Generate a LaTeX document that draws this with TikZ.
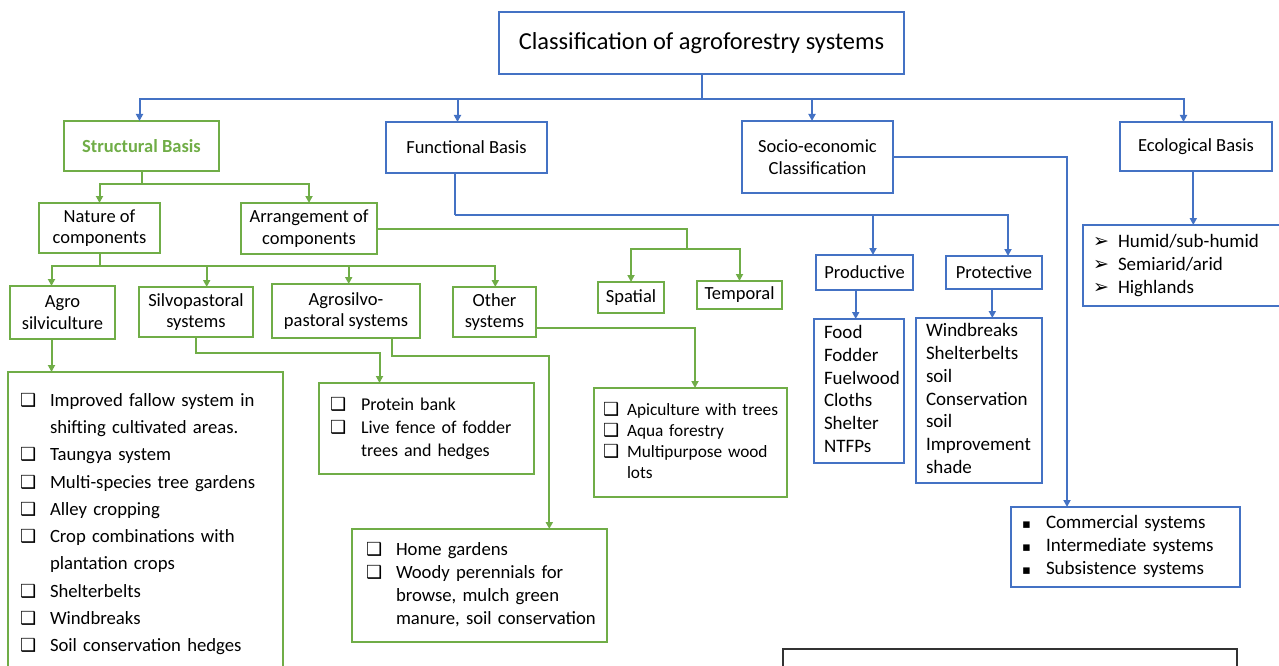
\documentclass[tikz,border=0pt]{standalone}
\usepackage{fontspec}
\setmainfont{Carlito}
\newfontfamily\symfont{DejaVu Sans}
\usetikzlibrary{arrows.meta}
\definecolor{agreen}{HTML}{70AD47}
\definecolor{ablue}{HTML}{4472C4}
% bullet marks used in the lists
\newcommand{\chk}{{\symfont\fontsize{18}{18}\selectfont ❑}}
\newcommand{\pointer}{{\symfont\fontsize{19}{19}\selectfont ➢}}
\newcommand{\sqmark}{{\symfont\fontsize{13}{13}\selectfont ▪}}
\setlength{\parindent}{0pt}

\begin{document}
\begin{tikzpicture}[x=1pt, y=-1pt,
  box/.style={draw, line width=1.6pt, rectangle, inner sep=0pt, outer sep=0pt,
    anchor=north west, align=center, font=\fontsize{18.5}{21.5}\selectfont},
  bbox/.style={box, draw=ablue},
  gbox/.style={box, draw=agreen},
  blist/.style={bbox, align=left, font=\fontsize{19}{22.7}\selectfont},
  glist/.style={gbox, align=left, font=\fontsize{18.7}{22.7}\selectfont},
  bline/.style={draw=ablue, line width=2pt},
  barr/.style={bline, -{Triangle[length=7pt,width=7pt]}},
  gline/.style={draw=agreen, line width=2pt},
  garr/.style={gline, -{Triangle[length=7pt,width=7pt]}},
]
\useasboundingbox (0,0) rectangle (1279,666);
\clip (0,0) rectangle (1279,666);

% top level
\node[bbox, minimum width=405pt, minimum height=62pt, font=\fontsize{24.4}{28}\selectfont] (ti) at (499,12) {Classification of agroforestry systems};
\node[gbox, minimum width=155pt, minimum height=50pt, text=agreen, font=\bfseries\fontsize{18.5}{22}\selectfont] (sb) at (64,121) {Structural Basis};
\node[bbox, minimum width=161pt, minimum height=51pt] (fb) at (386,122) {Functional Basis};
\node[bbox, minimum width=151pt, minimum height=72pt] (se) at (742,121) {Socio-economic\\Classification};
\node[bbox, minimum width=152pt, minimum height=49pt] (eb) at (1120,122) {Ecological Basis};

% functional basis
\node[bbox, minimum width=97pt, minimum height=35pt] (pd) at (816,255) {Productive};
\node[bbox, minimum width=96pt, minimum height=33pt] (pt) at (946,256) {Protective};
\node[blist, text width=70pt, inner xsep=10pt, minimum height=144pt] (fl) at (814,319) {%
  \begin{tabular}{@{}l@{}}Food\\Fodder\\Fuelwood\\Cloths\\Shelter\\NTFPs\end{tabular}};
\node[blist, text width=106pt, inner xsep=10pt, minimum height=165pt] (wb) at (916,318) {%
  \begin{tabular}{@{}l@{}}Windbreaks\\Shelterbelts\\soil\\Conservation\\soil\\Improvement\\shade\end{tabular}};

% socio-economic and ecological
\node[blist, text width=207pt, inner xsep=11pt, minimum height=80pt, font=\fontsize{19}{23}\selectfont] (cs) at (1011,507) {%
  \begin{tabular}{@{}p{24pt}@{}l@{}}
  \sqmark & Commercial systems\\
  \sqmark & Intermediate systems\\
  \sqmark & Subsistence systems
  \end{tabular}};
\node[blist, text width=178pt, inner xsep=10pt, minimum height=81pt, font=\fontsize{19}{23}\selectfont] (hu) at (1083,225) {%
  \begin{tabular}{@{}p{25pt}@{}l@{}}
  \pointer & Humid/sub-humid\\
  \pointer & Semiarid/arid\\
  \pointer & Highlands
  \end{tabular}};

% structural basis
\node[gbox, minimum width=121pt, minimum height=50pt] (nc) at (39,203) {Nature of\\components};
\node[gbox, minimum width=136pt, minimum height=51pt] (ar) at (241,203) {Arrangement of\\components};
\node[gbox, minimum width=105pt, minimum height=53pt] (ag) at (10,286) {Agro\\silviculture};
\node[gbox, minimum width=114pt, minimum height=50pt] (sp) at (139,287) {Silvopastoral\\systems};
\node[gbox, minimum width=148pt, minimum height=54pt] (as) at (272,284) {Agrosilvo-\\pastoral systems};
\node[gbox, minimum width=83pt, minimum height=50pt] (os) at (453,287) {Other\\systems};
\node[gbox, minimum width=66pt, minimum height=31pt] (spa) at (598,282) {Spatial};
\node[gbox, minimum width=85pt, minimum height=28pt] (tem) at (697,281) {Temporal};

\node[glist, text width=251pt, inner xsep=12pt, inner ysep=15pt, font=\fontsize{18.7}{27.3}\selectfont] (ls) at (8,372) {%
  \begin{tabular}{@{}p{30pt}@{}l@{}}
  \chk & Improved fallow system in\\
       & shifting cultivated areas.\\
  \chk & Taungya system\\
  \chk & Multi-species tree gardens\\
  \chk & Alley cropping\\
  \chk & Crop combinations with\\
       & plantation crops\\
  \chk & Shelterbelts\\
  \chk & Windbreaks\\
  \chk & Soil conservation hedges
  \end{tabular}};
\node[glist, text width=193pt, inner xsep=11pt, minimum height=91pt, font=\fontsize{18}{23}\selectfont] (pb) at (319,383) {%
  \begin{tabular}{@{}p{31pt}@{}l@{}}
  \chk & Protein bank\\
  \chk & Live fence of fodder\\
       & trees and hedges
  \end{tabular}};
\node[glist, text width=227pt, inner xsep=14pt, minimum height=113pt] (hg) at (352,529) {%
  \begin{tabular}{@{}p{30pt}@{}l@{}}
  \chk & Home gardens\\
  \chk & \makebox[200pt][s]{Woody perennials for}\\
       & \makebox[200pt][s]{browse, mulch green}\\
       & manure, soil conservation
  \end{tabular}};
\node[glist, text width=175pt, inner xsep=9pt, minimum height=109pt, font=\fontsize{17.3}{21}\selectfont] (ap) at (594,388) {%
  \begin{tabular}{@{}p{24pt}@{}l@{}}
  \chk & Apiculture with trees\\
  \chk & Aqua forestry\\
  \chk & Multipurpose wood\\
       & lots
  \end{tabular}};

% box cut by the lower edge
\node[box, draw=black!80, line width=1.2pt, minimum width=454pt, minimum height=60pt] (nt) at (783,649) {};

% blue connectors
\draw[bline] (ti.south) -- ++(0,25.3) coordinate (tb);
\foreach \n/\s in {sb/-2pt, fb/-9pt, se/-5.5pt, eb/-12.5pt}
  \draw[barr] (tb) -| ([xshift=\s]\n.north);
\draw[bline] ([xshift=-12pt]fb.south) -- ++(0,42) coordinate (fj);
\draw[barr] (fj) -| ([xshift=8.5pt]pd.north);
\draw[barr] (fj) -| ([xshift=14pt]pt.north);
\draw[barr] ([xshift=-8.8pt]pd.south) -- ([xshift=-3.3pt]fl.north);
\draw[barr] ([xshift=-1.7pt]pt.south) -- ([xshift=13.3pt]wb.north);
\draw[barr] (se.east) -| ([xshift=-58.5pt]cs.north);
\draw[barr] ([xshift=-2.7pt]eb.south) -- ([xshift=11.3pt]hu.north);

% green connectors
\draw[gline] (sb.south) -- ++(0,13) coordinate (sj);
\draw[garr] (sj) -| (nc.north);
\draw[garr] (sj) -| (ar.north);
\draw[gline] (nc.south) -- ++(0,13.3) coordinate (nj);
\foreach \n/\s in {ag/-11pt, sp/10.7pt, as/2.7pt, os/0.8pt}
  \draw[garr] (nj) -| ([xshift=\s]\n.north);
\coordinate (aj) at (687,249);
\draw[gline] (ar.east) -| (aj);
\draw[garr] (aj) -| (spa.north);
\draw[garr] (aj) -| (tem.north);
\draw[garr] ([xshift=-11pt]ag.south) -- ([xshift=-94pt]ls.north);
\draw[garr] (sp.south) -- ++(0,15.5) -| ([xshift=-47pt]pb.north);
\draw[garr] ([xshift=46.3pt]as.south) -- ++(0,17.7) -| ([xshift=69.8pt]hg.north);
\draw[garr] ([yshift=-15.7pt]os.east) -| ([xshift=4.5pt]ap.north);
\end{tikzpicture}
\end{document}
